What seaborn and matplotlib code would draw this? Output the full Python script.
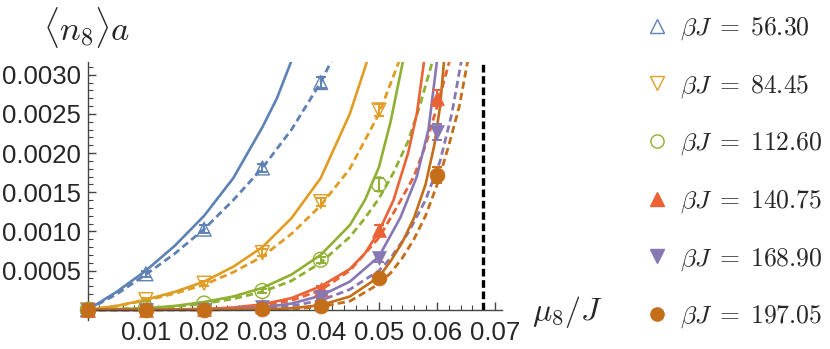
import matplotlib
matplotlib.use("Agg")
import numpy as np
import pandas as pd
import matplotlib.pyplot as plt
from matplotlib.lines import Line2D
from matplotlib.ticker import FixedLocator, FormatStrFormatter
import seaborn as sns

# ---- data ----
betas = ["56.30", "84.45", "112.60", "140.75", "168.90", "197.05"]
colors = ["#5E81B5", "#E19C24", "#8FB032", "#EB6235", "#8778B3", "#C56E1A"]
markers = ["^", "v", "o", "^", "v", "o"]
filled = [False, False, False, True, True, True]

mu_c = 0.0678  # vertical dashed line

# measured points (mu, <n8>a, error)
pts_mu_5630 = [0, 0.01, 0.02, 0.03, 0.04]
pts_n_5630 = [0, 0.00046, 0.00103, 0.00181, 0.0029]
pts_err_5630 = [0.00001, 0.00004, 0.00005, 0.00005, 0.00007]

pts_mu_8445 = [0, 0.01, 0.02, 0.03, 0.04, 0.05]
pts_n_8445 = [0, 0.00013, 0.00034, 0.00073, 0.00138, 0.00255]
pts_err_8445 = [0, 0.00002, 0.00003, 0.00004, 0.00005, 0.00008]

pts_mu_11260 = [0, 0.01, 0.02, 0.03, 0.04, 0.05]
pts_n_11260 = [0, 0.00002, 0.00008, 0.00024, 0.00064, 0.0016]
pts_err_11260 = [0, 0.00001, 0.00002, 0.00003, 0.00004, 0.00008]

pts_mu_14075 = [0, 0.01, 0.02, 0.03, 0.04, 0.05, 0.06]
pts_n_14075 = [0, 0, 0.000005, 0.00005, 0.00027, 0.00102, 0.0027]
pts_err_14075 = [0, 0, 0, 0.00001, 0.00003, 0.00006, 0.0001]

pts_mu_16890 = [0, 0.01, 0.02, 0.03, 0.04, 0.05, 0.06]
pts_n_16890 = [0, 0, 0, 0.00003, 0.00016, 0.00066, 0.00227]
pts_err_16890 = [0, 0, 0, 0.00001, 0.00002, 0.00005, 0.0001]

pts_mu_19705 = [0, 0.01, 0.02, 0.03, 0.04, 0.05, 0.06]
pts_n_19705 = [0, 0, 0, 0.000005, 0.00005, 0.00041, 0.00172]
pts_err_19705 = [0, 0, 0, 0, 0.00002, 0.00005, 0.0001]

# solid curves
sol_mu_5630 = [0, 0.005, 0.01, 0.015, 0.02, 0.025, 0.03, 0.0325, 0.0351]
sol_n_5630 = [0, 0.00023, 0.0005, 0.00082, 0.0012, 0.00168, 0.00233, 0.0027, 0.0032]
sol_mu_8445 = [0, 0.005, 0.01, 0.015, 0.02, 0.025, 0.03, 0.035, 0.04, 0.045, 0.0481]
sol_n_8445 = [0, 0.00005, 0.00013, 0.00023, 0.00036, 0.00055, 0.0008, 0.00117, 0.00168, 0.0025, 0.0032]
sol_mu_11260 = [0, 0.01, 0.015, 0.02, 0.025, 0.03, 0.035, 0.04, 0.045, 0.0476, 0.05, 0.052, 0.0542]
sol_n_11260 = [0, 0.00002, 0.00005, 0.0001, 0.00017, 0.00028, 0.00045, 0.0007, 0.00108, 0.0014, 0.00182, 0.0024, 0.0032]
sol_mu_14075 = [0, 0.01, 0.02, 0.025, 0.03, 0.035, 0.04, 0.045, 0.0476, 0.05, 0.0525, 0.055, 0.0565, 0.0578]
sol_n_14075 = [0, 0, 0.00001, 0.00003, 0.00007, 0.00015, 0.0003, 0.00052, 0.00072, 0.001, 0.0014, 0.002, 0.0025, 0.0032]
sol_mu_16890 = [0, 0.01, 0.02, 0.025, 0.03, 0.035, 0.04, 0.045, 0.05, 0.0537, 0.0565, 0.0585, 0.06]
sol_n_16890 = [0, 0, 0.000005, 0.00001, 0.00003, 0.00008, 0.00018, 0.00036, 0.00068, 0.00118, 0.0017, 0.0023, 0.0032]
sol_mu_19705 = [0, 0.01, 0.02, 0.03, 0.035, 0.04, 0.045, 0.05, 0.052, 0.054, 0.056, 0.058, 0.0595, 0.0605, 0.0612]
sol_n_19705 = [0, 0, 0, 0.000005, 0.00002, 0.00006, 0.00017, 0.00042, 0.00062, 0.00086, 0.00117, 0.0016, 0.0021, 0.0026, 0.0032]

# dashed curves
dsh_mu_5630 = [0, 0.005, 0.01, 0.015, 0.02, 0.025, 0.03, 0.035, 0.04, 0.042]
dsh_n_5630 = [0, 0.0002, 0.00045, 0.00072, 0.00103, 0.0014, 0.00181, 0.0023, 0.0029, 0.0032]
dsh_mu_8445 = [0, 0.005, 0.01, 0.015, 0.02, 0.025, 0.03, 0.035, 0.04, 0.045, 0.05, 0.0536]
dsh_n_8445 = [0, 0.00005, 0.00012, 0.00021, 0.00032, 0.00048, 0.00068, 0.00097, 0.00133, 0.0018, 0.0025, 0.0032]
dsh_mu_11260 = [0, 0.01, 0.015, 0.02, 0.025, 0.03, 0.035, 0.04, 0.045, 0.0476, 0.05, 0.0525, 0.055, 0.057, 0.0593]
dsh_n_11260 = [0, 0.00002, 0.00004, 0.00008, 0.00014, 0.00023, 0.00037, 0.0006, 0.00093, 0.00117, 0.00142, 0.00175, 0.00215, 0.0026, 0.0032]
dsh_mu_14075 = [0, 0.01, 0.02, 0.025, 0.03, 0.035, 0.04, 0.045, 0.05, 0.053, 0.056, 0.058, 0.06, 0.0622]
dsh_n_14075 = [0, 0, 0.00001, 0.00002, 0.00005, 0.00012, 0.00025, 0.0005, 0.00092, 0.0013, 0.0017, 0.0021, 0.0026, 0.0032]
dsh_mu_16890 = [0, 0.01, 0.02, 0.03, 0.035, 0.04, 0.045, 0.05, 0.052, 0.055, 0.058, 0.0605, 0.0625, 0.0642]
dsh_n_16890 = [0, 0, 0, 0.00002, 0.00005, 0.00012, 0.00026, 0.0005, 0.00066, 0.00098, 0.0014, 0.0019, 0.0025, 0.0032]
dsh_mu_19705 = [0, 0.01, 0.02, 0.03, 0.035, 0.04, 0.045, 0.05, 0.052, 0.054, 0.056, 0.058, 0.06, 0.062, 0.0638, 0.0653]
dsh_n_19705 = [0, 0, 0, 0.000003, 0.00001, 0.00004, 0.00011, 0.00033, 0.00047, 0.00066, 0.0009, 0.0012, 0.0016, 0.0021, 0.0026, 0.0032]

x_ticks = [0.01, 0.02, 0.03, 0.04, 0.05, 0.06, 0.07]
y_ticks = [0.0005, 0.0010, 0.0015, 0.0020, 0.0025, 0.0030]

points = [(pts_mu_5630, pts_n_5630, pts_err_5630), (pts_mu_8445, pts_n_8445, pts_err_8445),
          (pts_mu_11260, pts_n_11260, pts_err_11260), (pts_mu_14075, pts_n_14075, pts_err_14075),
          (pts_mu_16890, pts_n_16890, pts_err_16890), (pts_mu_19705, pts_n_19705, pts_err_19705)]
solids = [(sol_mu_5630, sol_n_5630), (sol_mu_8445, sol_n_8445), (sol_mu_11260, sol_n_11260),
          (sol_mu_14075, sol_n_14075), (sol_mu_16890, sol_n_16890), (sol_mu_19705, sol_n_19705)]
dashes = [(dsh_mu_5630, dsh_n_5630), (dsh_mu_8445, dsh_n_8445), (dsh_mu_11260, dsh_n_11260),
          (dsh_mu_14075, dsh_n_14075), (dsh_mu_16890, dsh_n_16890), (dsh_mu_19705, dsh_n_19705)]

# ---- style ----
sns.set_style("white")
plt.rcParams["font.family"] = ["Liberation Sans", "DejaVu Sans"]
plt.rcParams["mathtext.fontset"] = "cm"

fig = plt.figure(figsize=(8.3, 3.49), dpi=100)
ax = fig.add_axes([0.0964, 0.083, 0.509, 0.739])

for i in range(len(betas)):
    c = colors[i]
    mu, n = dashes[i]
    sns.lineplot(x=mu, y=n, ax=ax, color=c, lw=2.0, sort=False, estimator=None,
                 linestyle=(0, (2.6, 1.5)))
    mu, n = solids[i]
    sns.lineplot(x=mu, y=n, ax=ax, color=c, lw=1.9, sort=False, estimator=None)

for i in range(len(betas)):
    c = colors[i]
    mu, n, err = points[i]
    ax.errorbar(mu, n, yerr=err, fmt="none", ecolor=c, elinewidth=1.4, capsize=3.5, capthick=1.4)
    size = 115 if markers[i] == "o" else 100
    if filled[i]:
        sns.scatterplot(x=mu, y=n, ax=ax, marker=markers[i], color=c, edgecolor=c,
                        s=size, linewidth=0.5, zorder=5)
    else:
        sns.scatterplot(x=mu, y=n, ax=ax, marker=markers[i], color=c, facecolor="none",
                        edgecolor=c, s=size, linewidth=1.0, zorder=5)

ax.axvline(mu_c, ymin=0.04, ymax=1.0, color="black", lw=2.4, linestyle=(0, (2.3, 1.1)))

ax.set_xlim(-0.0013, 0.0712)
ax.set_ylim(-0.00013, 0.00316)
ax.spines["left"].set_position(("data", 0))
ax.spines["bottom"].set_position(("data", 0))
ax.spines["top"].set_visible(False)
ax.spines["right"].set_visible(False)
for s in ["left", "bottom"]:
    ax.spines[s].set_color("#444444")
    ax.spines[s].set_linewidth(1.0)

ax.xaxis.set_major_locator(FixedLocator(x_ticks))
ax.yaxis.set_major_locator(FixedLocator(y_ticks))
ax.xaxis.set_minor_locator(FixedLocator(np.arange(1, 36) * 0.002))
ax.yaxis.set_minor_locator(FixedLocator(np.arange(1, 32) * 0.0001))
ax.xaxis.set_major_formatter(FormatStrFormatter("%.2f"))
ax.yaxis.set_major_formatter(FormatStrFormatter("%.4f"))
ax.tick_params(axis="both", which="both", direction="in", color="#444444", labelsize=18.5,
               bottom=True, left=True)
ax.tick_params(axis="both", which="major", length=6, width=1.0)
ax.tick_params(axis="both", which="minor", length=3.5, width=0.8)
ax.tick_params(axis="x", pad=8)
ax.tick_params(axis="y", pad=5)
ax.set_xlabel("")
ax.set_ylabel("")

fig.text(0.104, 0.92, r"$\langle n_8\rangle a$", fontsize=25, ha="center", va="center")
fig.text(0.683, 0.106, r"$\mu_8/J$", fontsize=23, ha="center", va="center")

handles = []
for i in range(len(betas)):
    handles.append(Line2D([], [], linestyle="none", marker=markers[i], markersize=9.5,
                          markerfacecolor=colors[i] if filled[i] else "none",
                          markeredgecolor=colors[i], markeredgewidth=1.0,
                          label=r"$\beta J\;=\;%s$" % betas[i]))
fig.legend(handles=handles, loc="upper left", bbox_to_anchor=(0.764, 0.985), frameon=False,
           fontsize=18.5, handlelength=1.0, handletextpad=0.4, labelspacing=1.2,
           borderaxespad=0)

fig.savefig("out.png", dpi=100)
